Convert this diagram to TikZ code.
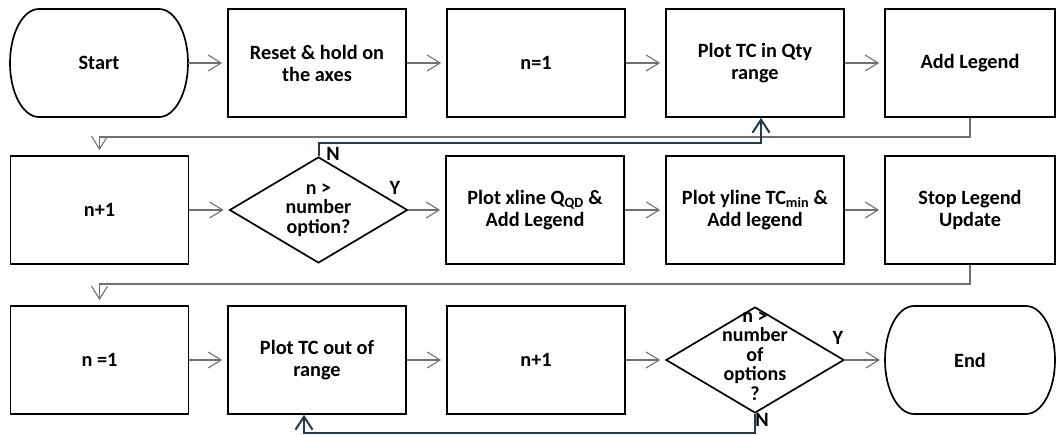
\documentclass[tikz,border=0pt]{standalone}
\usepackage{fontspec}
\setmainfont{Carlito}
\usetikzlibrary{arrows.meta,shapes.geometric,calc}
\definecolor{connc}{RGB}{112,112,112}
\definecolor{loopc}{RGB}{30,62,80}
\newcommand{\terminatorshape}[1]{%
  \draw[line width=1.7pt] ($(#1.north west)+(29,0)$) -- ($(#1.north east)+(-29,0)$)
    arc[start angle=90,end angle=-90,x radius=29pt,y radius=54pt]
    -- ($(#1.south west)+(29,0)$)
    arc[start angle=270,end angle=90,x radius=29pt,y radius=54pt] -- cycle;}
\begin{document}
\begin{tikzpicture}[x=1pt,y=1pt,
  every node/.style={font=\bfseries\fontsize{20.3}{22}\selectfont, align=center},
  procbox/.style={draw=black, line width=1.7pt, minimum width=178pt, minimum height=108pt, inner sep=0pt},
  termtxt/.style={minimum width=178pt, minimum height=108pt, inner sep=0pt, outer sep=0pt},
  decision/.style={diamond, draw=black, line width=1.7pt, minimum width=178pt, minimum height=106pt, inner sep=0pt},
  dtext/.style={font=\bfseries\fontsize{20}{19.5}\selectfont, inner sep=0pt},
  flow/.style={draw=connc, line width=1.1pt, -{Straight Barb[length=13pt,width=16pt,line width=1.1pt]}, shorten >=5pt},
  loopline/.style={draw=loopc, line width=2pt, -{Straight Barb[length=13pt,width=17pt,line width=2pt]}},
  lab/.style={inner sep=0pt}
]
\useasboundingbox (0,0) rectangle (1057,-435);

% row 1
\node[termtxt] (start) at (99,-63) {Start};
\terminatorshape{start}
\node[procbox] (reset) at (317,-63) {Reset \& hold on\\the axes};
\node[procbox] (n1a) at (536,-63) {n=1};
\node[procbox] (plotqty) at (755,-63) {Plot TC in Qty\\range};
\node[procbox, minimum width=170pt] (addleg) at (970,-63) {Add Legend};

% row 2
\node[procbox] (nplus) at (99.5,-210) {n+1};
\node[decision] (d1) at (318.5,-210) {};
\node[dtext] (d1txt) at (318.5,-210) {n >\\number\\option?};
\node[procbox] (xline) at (535,-210) {Plot xline Q\textsubscript{QD} \&\\Add Legend};
\node[procbox] (yline) at (755,-210) {Plot yline TC\textsubscript{min} \&\\Add legend};
\node[procbox, minimum width=170pt] (stop) at (970,-210) {Stop Legend\\Update};

% row 3
\node[procbox] (n1b) at (99.5,-360) {n =1};
\node[procbox] (plotout) at (317,-360) {Plot TC out of\\range};
\node[procbox] (nplus2) at (536,-360) {n+1};
\node[decision] (d3) at (755,-360) {};
\node[dtext] (d3txt) at (755,-356) {n >\\number\\of\\options\\?};
\node[termtxt, minimum width=170pt] (endn) at (970,-360) {End};
\terminatorshape{endn}

% labels
\node[lab] (n1lab) at (333,-154) {N};
\node[lab] (y1lab) at (395,-188) {Y};
\node[lab] (y3lab) at (838,-338) {Y};
\node[lab] (n3lab) at (762,-420) {N};

% helper levels
\coordinate (r1) at (0,-137);
\coordinate (t1) at (0,-143);
\coordinate (r2) at (0,-284);
\coordinate (t2) at (0,-433);

% row 1 flow
\draw[flow] (start.east) -- (reset.west);
\draw[flow] (reset.east) -- (n1a.west);
\draw[flow] (n1a.east) -- (plotqty.west);
\draw[flow] (plotqty.east) -- (addleg.west);
\draw[flow] (addleg.south) -- (addleg.south |- r1) -| (nplus.north);

% row 2 flow
\draw[flow] (nplus.east) -- (d1.west);
\draw[flow] (d1.east) -- (xline.west);
\draw[flow] (xline.east) -- (yline.west);
\draw[flow] (yline.east) -- (stop.west);
\draw[flow] (stop.south) -- (stop.south |- r2) -| (n1b.north);
\draw[loopline] (d1.north) -- (d1.north |- t1) -| ([xshift=6pt]plotqty.south);

% row 3 flow
\draw[flow] (n1b.east) -- (plotout.west);
\draw[flow] (plotout.east) -- (nplus2.west);
\draw[flow] (nplus2.east) -- (d3.west);
\draw[flow] (d3.east) -- (endn.west);
\draw[loopline] (d3.south) -- (d3.south |- t2) -| ([xshift=-13pt]plotout.south);
\end{tikzpicture}
\end{document}
